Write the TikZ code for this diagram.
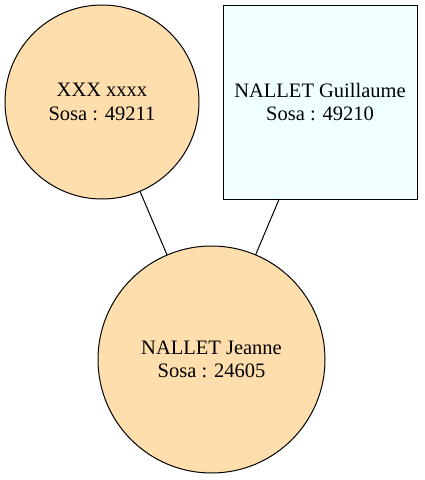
\documentclass[tikz,border=0pt]{standalone}
\usepackage{fontspec}
\setmainfont{Liberation Serif}
\begin{document}
\begin{tikzpicture}[x=1pt,y=-1pt,
  person/.style={draw=black,line width=1pt,inner sep=0pt,outer sep=0pt,align=center,
    font=\fontsize{20.5}{23.5}\selectfont},
  circ/.style={person,circle,fill={rgb,255:red,255;green,222;blue,173},minimum size=194pt},
  sq/.style={person,rectangle,fill={rgb,255:red,240;green,255;blue,255},minimum size=194pt},
  link/.style={draw=black,line width=1pt}]
\useasboundingbox (0,0) rectangle (424,480);
\node[circ] (a) at (102,102) {XXX xxxx\\Sosa : 49211};
\node[sq] (b) at (320,102) {NALLET Guillaume\\Sosa : 49210};
\node[circ,minimum size=227pt] (c) at (211.5,359.5) {NALLET Jeanne\\Sosa : 24605};
\draw[link] (a) -- (c);
\draw[link] (b) -- (c);
\end{tikzpicture}
\end{document}
